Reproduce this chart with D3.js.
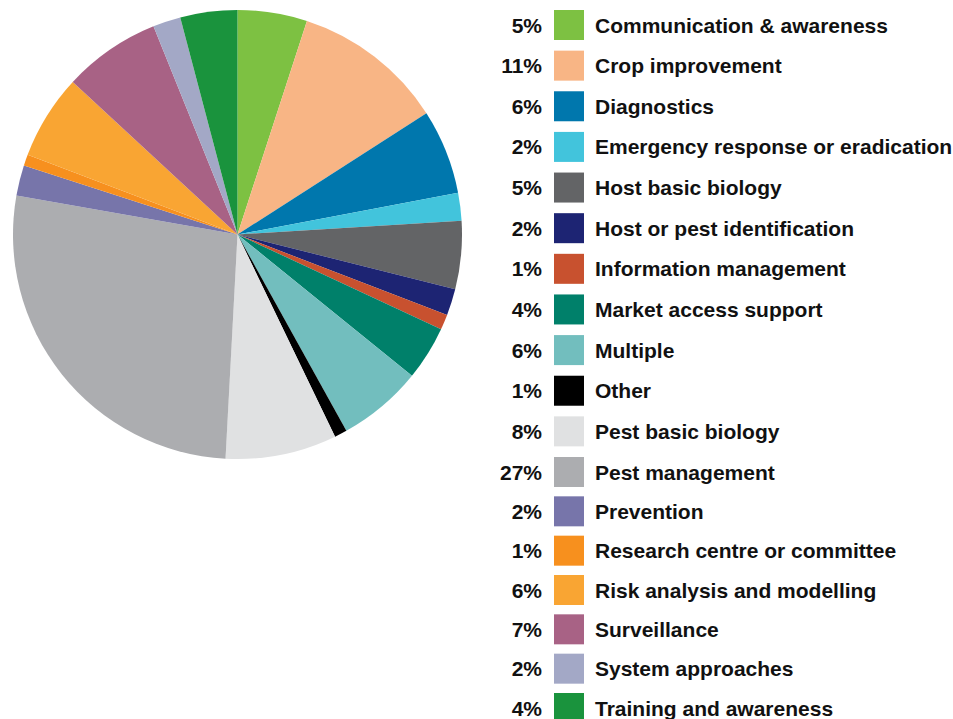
<!DOCTYPE html>
<html>
<head>
<meta charset="utf-8">
<script src="https://cdn.jsdelivr.net/npm/d3@7"></script>
<style>
  html, body { margin: 0; padding: 0; background: #ffffff; }
  svg { display: block; }
  text { font-family: "Liberation Sans", Arial, Helvetica, sans-serif; font-weight: bold; fill: #111111; }
</style>
</head>
<body>
<svg id="chart" width="953" height="719"></svg>
<script>
// ---- Data ----
const categories = [
  "Communication & awareness",
  "Crop improvement",
  "Diagnostics",
  "Emergency response or eradication",
  "Host basic biology",
  "Host or pest identification",
  "Information management",
  "Market access support",
  "Multiple",
  "Other",
  "Pest basic biology",
  "Pest management",
  "Prevention",
  "Research centre or committee",
  "Risk analysis and modelling",
  "Surveillance",
  "System approaches",
  "Training and awareness"
];
// share of projects (%)
const values = [5.0, 10.9, 6.1, 2.0, 4.9, 1.9, 1.1, 3.9, 6.1, 0.9, 8.0, 26.9, 2.2, 0.8, 6.1, 7.0, 2.0, 4.1];
// rounded labels shown in the legend
const percentLabels = ["5%", "11%", "6%", "2%", "5%", "2%", "1%", "4%", "6%", "1%", "8%", "27%", "2%", "1%", "6%", "7%", "2%", "4%"];
const colors = [
  "#7dc142", "#f8b585", "#0077ad", "#42c4dc", "#636466", "#1d2473",
  "#c8512f", "#00806a", "#72bebe", "#000000", "#e0e1e2", "#acadb0",
  "#7775aa", "#f7901e", "#f9a533", "#a86285", "#a3a8c6", "#1a933d"
];

// ---- Layout ----
const svg = d3.select("#chart");
const cx = 237.5, cy = 234.5, radius = 224.5;

const color = d3.scaleOrdinal().domain(categories).range(colors);

const pie = d3.pie().sort(null).value(d => d.value);
const arc = d3.arc().innerRadius(0).outerRadius(radius);

const data = categories.map((c, i) => ({ name: c, value: values[i], label: percentLabels[i] }));

svg.append("g")
  .attr("transform", `translate(${cx},${cy})`)
  .selectAll("path")
  .data(pie(data))
  .join("path")
  .attr("d", arc)
  .attr("fill", d => color(d.data.name));

// ---- Legend ----
const yRow = d3.scaleLinear().domain([0, 11, 17]).range([25, 472, 708]);
const legend = svg.append("g");
const rows = legend.selectAll("g.row")
  .data(data)
  .join("g")
  .attr("class", "row")
  .attr("transform", (d, i) => `translate(0,${yRow(i)})`);

rows.append("rect")
  .attr("x", 554)
  .attr("y", -15)
  .attr("width", 30)
  .attr("height", 30)
  .attr("fill", d => color(d.name));

rows.append("text")
  .attr("x", 542)
  .attr("y", 0)
  .attr("dy", "0.36em")
  .attr("text-anchor", "end")
  .attr("font-size", 21)
  .text(d => d.label);

rows.append("text")
  .attr("x", 595)
  .attr("y", 0)
  .attr("dy", "0.36em")
  .attr("text-anchor", "start")
  .attr("font-size", 21)
  .text(d => d.name);
</script>
</body>
</html>
